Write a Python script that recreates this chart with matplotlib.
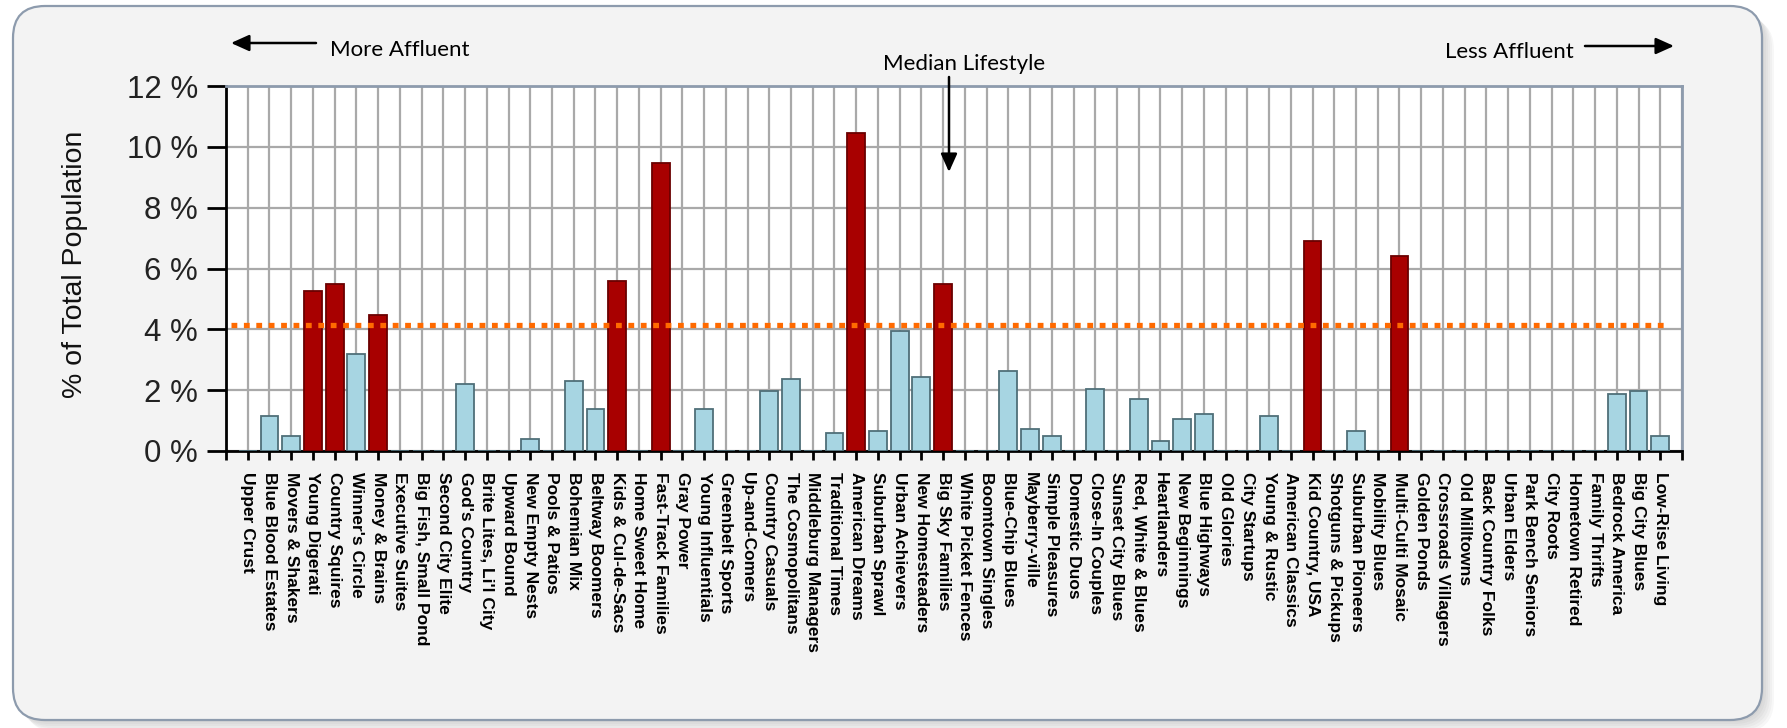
import numpy as np
import matplotlib.pyplot as plt
from matplotlib.patches import FancyBboxPatch
from matplotlib.transforms import IdentityTransform

# PRIZM segments, from most to least affluent
segments = [
    "Upper Crust", "Blue Blood Estates", "Movers & Shakers", "Young Digerati",
    "Country Squires", "Winner's Circle", "Money & Brains", "Executive Suites",
    "Big Fish, Small Pond", "Second City Elite", "God's Country",
    "Brite Lites, Li'l City", "Upward Bound", "New Empty Nests", "Pools & Patios",
    "Bohemian Mix", "Beltway Boomers", "Kids & Cul-de-Sacs", "Home Sweet Home",
    "Fast-Track Families", "Gray Power", "Young Influentials", "Greenbelt Sports",
    "Up-and-Comers", "Country Casuals", "The Cosmopolitans", "Middleburg Managers",
    "Traditional Times", "American Dreams", "Suburban Sprawl", "Urban Achievers",
    "New Homesteaders", "Big Sky Families", "White Picket Fences",
    "Boomtown Singles", "Blue-Chip Blues", "Mayberry-ville", "Simple Pleasures",
    "Domestic Duos", "Close-In Couples", "Sunset City Blues", "Red, White & Blues",
    "Heartlanders", "New Beginnings", "Blue Highways", "Old Glories",
    "City Startups", "Young & Rustic", "American Classics", "Kid Country, USA",
    "Shotguns & Pickups", "Suburban Pioneers", "Mobility Blues",
    "Multi-Culti Mosaic", "Golden Ponds", "Crossroads Villagers", "Old Milltowns",
    "Back Country Folks", "Urban Elders", "Park Bench Seniors", "City Roots",
    "Hometown Retired", "Family Thrifts", "Bedrock America", "Big City Blues",
    "Low-Rise Living",
]

pct_population = [
    0, 1.15, 0.50, 5.26, 5.50, 3.19, 4.46, 0, 0, 0, 2.21,
    0, 0, 0.39, 0, 2.29, 1.37, 5.59, 0, 9.46, 0,
    1.38, 0, 0, 1.97, 2.38, 0, 0.58, 10.45, 0.66, 3.95,
    2.44, 5.50, 0, 0, 2.63, 0.73, 0.49, 0, 2.04, 0,
    1.71, 0.32, 1.05, 1.23, 0, 0, 1.15, 0, 6.92, 0,
    0.66, 0, 6.41, 0, 0, 0, 0, 0, 0, 0,
    0, 0, 1.89, 1.96, 0.49,
]

median_pct = 4.14

y_ticks = [0, 2, 4, 6, 8, 10, 12]
y_tick_labels = ["0 %", "2 %", "4 %", "6 %", "8 %", "10 %", "12 %"]

W, H = 1787, 728
fig = plt.figure(figsize=(W / 100, H / 100), dpi=100)
fig.patch.set_facecolor("white")

# rounded grey panel with a soft shadow to the right and below
for off in [12, 10, 8, 6, 4, 2]:
    fig.patches.append(FancyBboxPatch(
        (13 + off, 8 - off), 1749, 714,
        boxstyle="round,pad=0,rounding_size=32", transform=IdentityTransform(),
        facecolor="#5a5a5a", edgecolor="none", alpha=0.045, zorder=-3))
fig.patches.append(FancyBboxPatch(
    (13, 8), 1749, 714, boxstyle="round,pad=0,rounding_size=32",
    transform=IdentityTransform(), facecolor="#f3f3f3", edgecolor="#8d9bad",
    linewidth=1.6, zorder=-2))

ax = fig.add_axes([226 / W, 1 - 451 / H, (1682 - 226) / W, (451 - 86) / H])
ax.set_facecolor("white")

x = np.arange(len(segments))
colors = ["#a80000" if v > median_pct else "#a7d5e2" for v in pct_population]
edges = ["#6a0000" if v > median_pct else "#4f6f78" for v in pct_population]
ax.bar(x, pct_population, width=0.82, color=colors, edgecolor=edges,
       linewidth=1.3, zorder=3)

ax.hlines(median_pct, -0.75, len(segments) - 0.85, colors="#ff6a00",
          linewidth=3.8, linestyles=(0, (1.1, 1.25)), zorder=4)

ax.set_xlim(-1, len(segments))
ax.set_ylim(0, 12)
ax.set_xticks(np.arange(-1, len(segments) + 1))
ax.set_xticklabels([""] + segments + [""], rotation=-90, fontsize=12.5,
                   fontweight="bold", family=["Liberation Sans", "DejaVu Sans"],
                   va="top", ha="center")
ax.set_yticks(y_ticks)
ax.set_yticklabels(y_tick_labels, fontsize=22.5,
                   family=["Liberation Sans", "DejaVu Sans"], color="#222222")

ax.grid(True, color="#a9a9a9", linewidth=1.6)
ax.set_axisbelow(True)

ax.tick_params(axis="y", length=13.7, width=2, pad=6.5)
ax.tick_params(axis="x", length=6.5, width=2, pad=8.5)
for side in ["left", "bottom"]:
    ax.spines[side].set_color("black")
    ax.spines[side].set_linewidth(2)
for side in ["top", "right"]:
    ax.spines[side].set_color("#8d9bad")
    ax.spines[side].set_linewidth(2)

fig.text(75 / W, 1 - 264 / H, "% of Total Population", rotation=90,
         ha="center", va="center", fontsize=20.5,
         family=["Liberation Sans", "DejaVu Sans"], color="#111111")

note_font = dict(family=["Lato", "DejaVu Sans"], fontsize=16, color="black")
fig.text(330 / W, 672.5 / H, "More Affluent", ha="left", va="baseline", **note_font)
fig.text(964 / W, 658 / H, "Median Lifestyle", ha="center", va="baseline", **note_font)
fig.text(1574 / W, 669.5 / H, "Less Affluent", ha="right", va="baseline", **note_font)

arrow = dict(arrowstyle="-|>,head_length=1,head_width=0.45", color="black",
             lw=1.8, mutation_scale=11, shrinkA=0, shrinkB=0)
ax.annotate("", xy=(231, 685), xytext=(316, 685), xycoords="figure pixels",
            textcoords="figure pixels", arrowprops=arrow)
ax.annotate("", xy=(949, 556), xytext=(949, 651), xycoords="figure pixels",
            textcoords="figure pixels", arrowprops=arrow)
ax.annotate("", xy=(1674, 682), xytext=(1585, 682), xycoords="figure pixels",
            textcoords="figure pixels", arrowprops=arrow)

fig.savefig("out.png", dpi=100)
